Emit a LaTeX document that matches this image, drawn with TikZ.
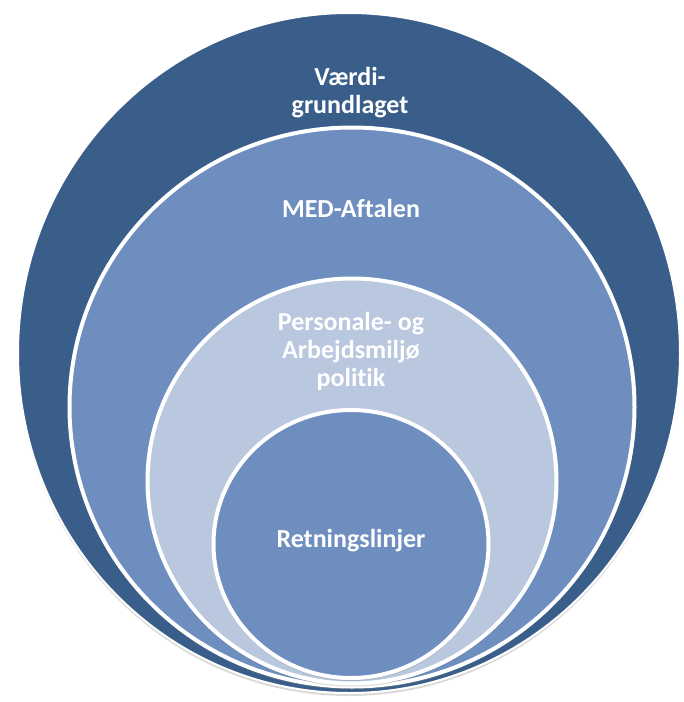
\documentclass[tikz,border=0pt]{standalone}
\usepackage{fontspec}
\setsansfont{Carlito}[Ligatures=NoCommon]
\usetikzlibrary{shapes.geometric,shadows}

\definecolor{outerblue}{RGB}{58,94,138}
\definecolor{midblue}{RGB}{110,142,191}
\definecolor{paleblue}{RGB}{185,199,223}

\begin{document}
\begin{tikzpicture}[
  x=1pt, y=-1pt,
  ring/.style={ellipse, draw=white, line width=4pt, inner sep=0pt,
    drop shadow={opacity=0.3, shadow xshift=0pt, shadow yshift=-3pt}},
  lbl/.style={text=white, align=center, inner sep=0pt,
    font=\sffamily\bfseries\fontsize{26}{28}\selectfont}
]
\useasboundingbox (0,0) rectangle (684,702);
\node[ring, fill=outerblue, line width=2pt, minimum width=662pt, minimum height=680pt] (vaerdi) at (349,353) {};
\node[ring, fill=midblue, minimum width=565pt, minimum height=559pt] (med) at (352,407) {};
\node[ring, fill=paleblue, minimum width=409pt, minimum height=405pt] (politik) at (352,481) {};
\node[ring, fill=midblue, minimum width=275pt, minimum height=268pt] (retning) at (351,544) {};
\node[lbl] (vaerdilbl) at (350,93) {Værdi-\\grundlaget};
\node[lbl] (medlbl) at (351,208) {MED-Aftalen};
\node[lbl] (politiklbl) at (351,351) {Personale- og\\Arbejdsmiljø\\politik};
\node[lbl] (retninglbl) at (351,541) {Retningslinjer};
\end{tikzpicture}
\end{document}
